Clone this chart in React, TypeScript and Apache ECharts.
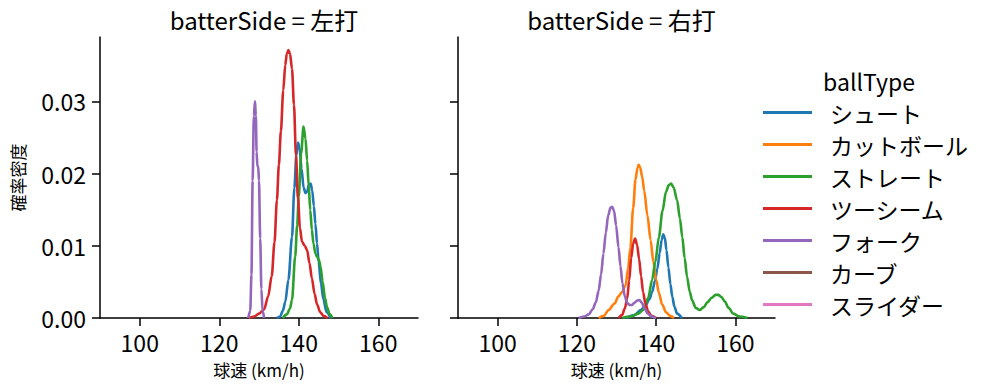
import React, { useEffect, useRef } from "react";
import * as echarts from "echarts";

const ballTypes = ["シュート", "カットボール", "ストレート", "ツーシーム", "フォーク", "カーブ", "スライダー"];
const colors = ["#1f77b4", "#ff7f0e", "#2ca02c", "#d62728", "#9467bd", "#8c564b", "#e377c2"];
const panelTitles = ["batterSide = 左打", "batterSide = 右打"];
const xTicks = [100, 120, 140, 160];
const yTicks = [0, 0.01, 0.02, 0.03];

// 左打
const leftShoot = [[134.5,0],[135.3,0.0002],[136.0,0.001],[136.6,0.0022],[137.4,0.0053],[138.3,0.0112],[138.9,0.018],[139.4,0.0225],[139.8,0.0243],[140.2,0.0236],[140.7,0.0207],[141.2,0.0181],[141.7,0.0173],[142.1,0.0175],[142.6,0.0185],[143.0,0.0186],[143.4,0.0176],[143.8,0.0155],[144.2,0.013],[144.6,0.0103],[145.0,0.0078],[145.6,0.0047],[146.2,0.0026],[147.0,0.0008],[148.0,0]];
const leftStraight = [[136.0,0],[137.0,0.0005],[137.8,0.0013],[138.3,0.0025],[139.1,0.0085],[139.6,0.0128],[140.0,0.0168],[140.6,0.0228],[141.2,0.0265],[141.7,0.0248],[142.1,0.0218],[142.5,0.0183],[142.9,0.0149],[143.3,0.0122],[143.7,0.0103],[144.2,0.0089],[144.7,0.0084],[145.1,0.008],[145.5,0.0071],[146.0,0.005],[146.6,0.0028],[147.1,0.0015],[147.8,0.0005],[148.5,0]];
const leftTwoSeam = [[127.5,0],[128.8,0.0002],[130.0,0.0006],[131.3,0.0012],[132.3,0.003],[133.2,0.0058],[133.9,0.0105],[134.5,0.0163],[135.0,0.0212],[135.5,0.0258],[136.1,0.0315],[136.6,0.035],[137.0,0.0366],[137.4,0.0371],[137.8,0.0366],[138.3,0.0345],[138.8,0.0295],[139.3,0.0225],[139.8,0.0165],[140.3,0.0125],[140.8,0.0106],[141.5,0.01],[142.1,0.0094],[142.7,0.0076],[143.3,0.0055],[144.0,0.0033],[144.6,0.0019],[145.4,0.0008],[146.2,0.0003],[147.2,0]];
const leftFork = [[127.3,0],[127.8,0.001],[128.1,0.006],[128.4,0.019],[128.7,0.028],[129.0,0.030],[129.2,0.028],[129.4,0.023],[129.6,0.021],[129.8,0.021],[130.0,0.019],[130.3,0.011],[130.6,0.004],[130.9,0.001],[131.3,0]];

// 右打
const rightShoot = [[132.5,0],[134.5,0.0004],[136.1,0.0011],[137.3,0.0017],[138.3,0.0026],[139.0,0.0036],[139.7,0.0051],[140.3,0.0068],[140.9,0.009],[141.4,0.0108],[141.8,0.0116],[142.2,0.0111],[142.6,0.0094],[143.1,0.007],[143.6,0.0047],[144.1,0.0029],[144.6,0.0016],[145.3,0.0006],[146.5,0]];
const rightCutter = [[125.5,0],[126.8,0.0003],[128.0,0.0011],[129.5,0.002],[130.5,0.003],[131.4,0.0036],[132.3,0.0045],[132.9,0.0068],[133.5,0.0097],[134.2,0.0152],[134.8,0.0192],[135.3,0.0208],[135.6,0.0212],[136.0,0.0208],[136.5,0.0195],[137.0,0.0176],[137.8,0.0142],[138.6,0.0108],[139.3,0.0078],[140.0,0.0053],[140.7,0.0035],[141.5,0.0019],[142.5,0.0008],[143.5,0.0003],[144.5,0]];
const rightStraight = [[131.5,0],[133.5,0.0002],[135.5,0.0006],[136.9,0.0012],[138.0,0.0028],[139.0,0.0053],[139.8,0.0078],[140.7,0.0112],[141.6,0.0148],[142.5,0.0175],[143.2,0.0184],[143.8,0.0186],[144.4,0.0181],[145.3,0.0163],[146.0,0.0138],[146.6,0.0112],[147.2,0.0083],[147.8,0.0057],[148.5,0.0036],[149.1,0.0024],[150.0,0.0014],[151.0,0.0011],[152.0,0.0015],[153.0,0.0022],[154.0,0.0028],[155.0,0.0032],[155.7,0.0032],[156.5,0.0029],[157.3,0.0023],[158.3,0.0014],[159.5,0.0006],[161.0,0.0002],[163.0,0]];
const rightTwoSeam = [[130.5,0],[131.4,0.0004],[132.1,0.0013],[132.7,0.0027],[133.2,0.0052],[133.7,0.0083],[134.2,0.0103],[134.7,0.011],[135.2,0.0101],[135.7,0.0082],[136.2,0.0058],[136.7,0.0036],[137.3,0.002],[138.0,0.0009],[138.8,0.0003],[140.0,0]];
const rightFork = [[120.5,0],[121.8,0.0002],[123.0,0.0005],[124.0,0.0012],[124.8,0.0022],[125.5,0.0038],[126.1,0.006],[126.7,0.0089],[127.3,0.0118],[127.9,0.0142],[128.5,0.0153],[128.9,0.0154],[129.4,0.0148],[129.9,0.0128],[130.5,0.0098],[131.0,0.0072],[131.5,0.0048],[132.1,0.003],[132.7,0.0021],[133.3,0.0018],[133.9,0.0018],[134.5,0.0021],[135.2,0.0024],[135.8,0.0025],[136.4,0.0021],[137.1,0.0013],[137.9,0.0006],[138.8,0.0002],[140,0]];

const panels: { [k: string]: number[][] }[] = [
  { "シュート": leftShoot, "ストレート": leftStraight, "ツーシーム": leftTwoSeam, "フォーク": leftFork },
  { "シュート": rightShoot, "カットボール": rightCutter, "ストレート": rightStraight, "ツーシーム": rightTwoSeam, "フォーク": rightFork, "カーブ": [], "スライダー": [] },
];

const JFONT = "Noto Sans CJK JP, sans-serif";

export default function App() {
  const ref = useRef<HTMLDivElement>(null);
  useEffect(() => {
    if (!ref.current) return;
    const chart = echarts.init(ref.current, undefined, { renderer: "svg" });
    const grids = [
      { left: 100, top: 37, width: 318, height: 281 },
      { left: 458, top: 37, width: 317, height: 281 },
    ];
    const xAxes = grids.map((_, i) => ({
      type: "value",
      gridIndex: i,
      min: 90,
      max: 170,
      name: "球速 (km/h)",
      nameLocation: "middle",
      nameGap: 43,
      nameTextStyle: { fontFamily: JFONT, fontSize: 17, color: "#000" },
      axisLine: { show: true, lineStyle: { color: "#000", width: 1.5 } },
      axisTick: { show: true, customValues: xTicks, length: 8, lineStyle: { color: "#000", width: 1.5 } },
      axisLabel: { customValues: xTicks, fontFamily: JFONT, fontSize: 23, color: "#000", margin: 12 },
      splitLine: { show: false },
    }));
    const yAxes = grids.map((_, i) => ({
      type: "value",
      gridIndex: i,
      min: 0,
      max: 0.0389,
      name: i === 0 ? "確率密度" : "",
      nameLocation: "middle",
      nameGap: 74,
      nameTextStyle: { fontFamily: JFONT, fontSize: 17, color: "#000" },
      axisLine: { show: true, lineStyle: { color: "#000", width: 1.5 } },
      axisTick: { show: true, customValues: yTicks, length: 8, lineStyle: { color: "#000", width: 1.5 } },
      axisLabel: {
        show: i === 0,
        customValues: yTicks,
        fontFamily: JFONT,
        fontSize: 23,
        color: "#000",
        margin: 14,
        formatter: (v: number) => v.toFixed(2),
      },
      splitLine: { show: false },
    }));
    const series: any[] = [];
    panels.forEach((panel, pi) => {
      ballTypes.forEach((bt, bi) => {
        if (!(bt in panel)) return;
        series.push({
          type: "line",
          name: bt,
          xAxisIndex: pi,
          yAxisIndex: pi,
          data: panel[bt],
          showSymbol: false,
          smooth: 0.3,
          smoothMonotone: "x",
          lineStyle: { color: colors[bi], width: 2.6 },
          itemStyle: { color: colors[bi] },
          z: 2 + bi,
        });
      });
    });
    chart.setOption({
      animation: false,
      title: [
        ...panelTitles.map((t, i) => ({
          text: t,
          left: grids[i].left + grids[i].width / 2,
          top: 2,
          textAlign: "center",
          textStyle: { fontFamily: JFONT, fontSize: 24, fontWeight: "normal", color: "#000" },
        })),
        {
          text: "ballType",
          left: 864,
          top: 64,
          textAlign: "center",
          textStyle: { fontFamily: JFONT, fontSize: 23, fontWeight: "normal", color: "#000" },
        },
      ],
      legend: {
        orient: "vertical",
        left: 763,
        top: 101,
        padding: 0,
        data: ballTypes,
        icon: "rect",
        itemWidth: 49,
        itemHeight: 3,
        itemGap: 9,
        selectedMode: false,
        textStyle: { fontFamily: JFONT, fontSize: 23, color: "#000", padding: [0, 0, 0, 13] },
      },
      grid: grids,
      xAxis: xAxes,
      yAxis: yAxes,
      series,
    });
    return () => chart.dispose();
  }, []);
  return <div ref={ref} style={{ width: 985, height: 391, position: "absolute", left: 0, top: 0 }} />;
}
